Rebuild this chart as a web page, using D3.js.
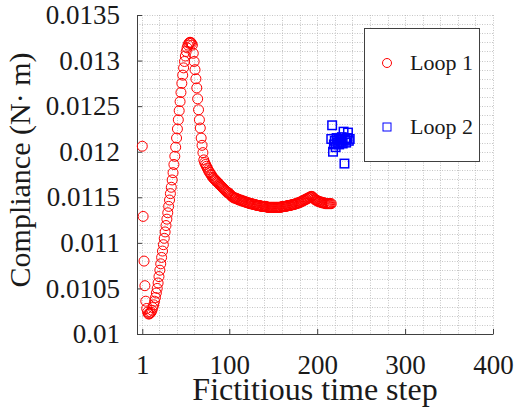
<!DOCTYPE html>
<html>
<head>
<meta charset="utf-8">
<script src="https://cdn.jsdelivr.net/npm/d3@7"></script>
<style>
  html, body { margin: 0; padding: 0; background: #fff; }
  svg { display: block; font-family: "Liberation Serif", "Times New Roman", serif; }
</style>
</head>
<body>
<svg id="chart" width="518" height="412"></svg>
<script>
// Compliance per fictitious time step, Loop 1 starts at step 1
const loop1FirstStep = 1;
const loop1Compliance = [
  0.01206, 0.01129, 0.01080, 0.01053, 0.01036, 0.01028, 0.01024, 0.01022, 0.01022, 0.01023,
  0.01024, 0.01026, 0.01029, 0.01032, 0.01036, 0.01040, 0.01045, 0.01050, 0.01056, 0.01063,
  0.01070, 0.01077, 0.01084, 0.01091, 0.01098, 0.01105, 0.01112, 0.01119, 0.01126, 0.01133,
  0.01140, 0.01147, 0.01154, 0.01161, 0.01169, 0.01177, 0.01186, 0.01195, 0.01205, 0.01215,
  0.01225, 0.01235, 0.01245, 0.01255, 0.01265, 0.01275, 0.01284, 0.01292, 0.01299, 0.01305,
  0.01310, 0.01314, 0.01317, 0.01319, 0.01320, 0.01320, 0.01319, 0.01317, 0.01308, 0.01299,
  0.01290, 0.01280, 0.01270, 0.01258, 0.01246, 0.01235, 0.01226, 0.01215, 0.01207, 0.01199,
  0.01191, 0.01188, 0.01186, 0.01184, 0.01182, 0.01180, 0.01178, 0.01177, 0.01175, 0.01174,
  0.01172, 0.01171, 0.01170, 0.01169, 0.01168, 0.01167, 0.01166, 0.01165, 0.01164, 0.01163,
  0.01162, 0.01161, 0.01160, 0.01159, 0.01158, 0.01157, 0.01156, 0.01155, 0.01155, 0.01154,
  0.01153, 0.01152, 0.01151, 0.01150, 0.01150, 0.01149, 0.01149, 0.01149, 0.01148, 0.01148,
  0.01147, 0.01147, 0.01147, 0.01146, 0.01146, 0.01146, 0.01145, 0.01145, 0.01145, 0.01144,
  0.01144, 0.01144, 0.01143, 0.01143, 0.01143, 0.01143, 0.01142, 0.01142, 0.01142, 0.01142,
  0.01141, 0.01141, 0.01141, 0.01141, 0.01141, 0.01140, 0.01140, 0.01140, 0.01140, 0.01140,
  0.01140, 0.01140, 0.01139, 0.01139, 0.01139, 0.01139, 0.01139, 0.01139, 0.01139, 0.01139,
  0.01139, 0.01139, 0.01139, 0.01139, 0.01139, 0.01139, 0.01139, 0.01139, 0.01139, 0.01140,
  0.01140, 0.01140, 0.01140, 0.01140, 0.01140, 0.01141, 0.01141, 0.01141, 0.01141, 0.01141,
  0.01142, 0.01142, 0.01142, 0.01142, 0.01143, 0.01143, 0.01143, 0.01144, 0.01144, 0.01144,
  0.01145, 0.01145, 0.01146, 0.01146, 0.01147, 0.01147, 0.01148, 0.01148, 0.01149, 0.01149,
  0.01150, 0.01150, 0.01151, 0.01151, 0.01150, 0.01149, 0.01148, 0.01147, 0.01147, 0.01146,
  0.01146, 0.01145, 0.01145, 0.01145, 0.01144, 0.01144, 0.01144, 0.01144, 0.01143, 0.01143,
  0.01143, 0.01143, 0.01143, 0.01143, 0.01143, 0.01143
];

// Loop 2 continues from step 216
const loop2FirstStep = 216;
const loop2Compliance = [
  0.01214, 0.01229, 0.01200, 0.01208, 0.01212, 0.01205, 0.01215, 0.01210, 0.01213, 0.01208,
  0.01214, 0.01211, 0.01216, 0.01209, 0.01222, 0.01187, 0.01213, 0.01210, 0.01215, 0.01221,
  0.01212, 0.01214
];

const xTicks = [1, 100, 200, 300, 400];
const yTicks = [0.01, 0.0105, 0.011, 0.0115, 0.012, 0.0125, 0.013, 0.0135];
const xMinorGrid = [20, 40, 60, 80, 120, 140, 160, 180, 220, 240, 260, 280, 320, 340, 360, 380];
const seriesNames = ["Loop 1", "Loop 2"];

const svg = d3.select("#chart");
const plotLeft = 137, plotRight = 493, plotTop = 15, plotBottom = 334;

const x = d3.scaleLinear().domain([-5, 400]).range([plotLeft, plotRight]);
const y = d3.scaleLinear().domain([0.01, 0.0135]).range([plotBottom, plotTop]);

// Grid: dotted lines at every major and minor position
const grid = svg.append("g").attr("stroke", "#b8b8b8").attr("stroke-width", 0.8)
  .attr("stroke-dasharray", "1,1.5").attr("fill", "none");
const yGridVals = d3.range(0, 36).map(i => 0.01 + i * 0.0001);
grid.selectAll("line.h").data(yGridVals).join("line").attr("class", "h")
  .attr("x1", plotLeft).attr("x2", plotRight)
  .attr("y1", d => Math.round(y(d)) + 0.5).attr("y2", d => Math.round(y(d)) + 0.5);
grid.selectAll("line.v").data(xTicks.concat(xMinorGrid)).join("line").attr("class", "v")
  .attr("y1", plotTop).attr("y2", plotBottom)
  .attr("x1", d => Math.round(x(d)) + 0.5).attr("x2", d => Math.round(x(d)) + 0.5);

// Axes with inward ticks
const axisColor = "#404040";
const yAxis = d3.axisLeft(y).tickValues(yTicks).tickSizeInner(-5).tickSizeOuter(0)
  .tickPadding(17).tickFormat(d => String(+d.toFixed(4)));
const gy = svg.append("g").attr("transform", `translate(${plotLeft},0)`).call(yAxis);
const xAxis = d3.axisBottom(x).tickValues(xTicks).tickSizeInner(-5).tickSizeOuter(0)
  .tickPadding(21).tickFormat(d3.format("d"));
const gx = svg.append("g").attr("transform", `translate(0,${plotBottom})`).call(xAxis);
[gx, gy].forEach(g => {
  g.select(".domain").attr("stroke", axisColor).attr("stroke-width", 1);
  g.selectAll(".tick line").attr("stroke", axisColor);
  g.selectAll(".tick text").attr("fill", "#1a1a1a")
    .style("font-family", '"Liberation Serif", serif').style("font-size", "27px");
});
gx.selectAll(".tick text").attr("dy", "0.71em");

// Loop 1: red open circles
const loop1 = loop1Compliance.map((v, i) => ({ step: loop1FirstStep + i, value: v }));
svg.append("g").selectAll("circle").data(loop1).join("circle")
  .attr("cx", d => x(d.step)).attr("cy", d => y(d.value)).attr("r", 5)
  .attr("fill", "none").attr("stroke", "#ff0000").attr("stroke-width", 1);

// Loop 2: blue open squares
const loop2 = loop2Compliance.map((v, i) => ({ step: loop2FirstStep + i, value: v }));
const sq = 8.5;
svg.append("g").selectAll("rect").data(loop2).join("rect")
  .attr("x", d => x(d.step) - sq / 2).attr("y", d => y(d.value) - sq / 2)
  .attr("width", sq).attr("height", sq)
  .attr("fill", "none").attr("stroke", "#0000ff").attr("stroke-width", 1.5);

// Axis titles
svg.append("text").attr("x", (plotLeft + plotRight) / 2).attr("y", 400)
  .attr("text-anchor", "middle").attr("fill", "#1a1a1a")
  .style("font-size", "32px").text("Fictitious time step");
svg.append("text").attr("transform", `translate(29.5,170) rotate(-90)`)
  .attr("text-anchor", "middle").attr("fill", "#1a1a1a")
  .style("font-size", "30px").text("Compliance (N\u00b7 m)");

// Legend
const lg = svg.append("g");
lg.append("rect").attr("x", 364.5).attr("y", 28.5).attr("width", 115).attr("height", 133)
  .attr("fill", "#fff").attr("stroke", "#404040").attr("stroke-width", 1);
lg.append("circle").attr("cx", 387).attr("cy", 63).attr("r", 4.5)
  .attr("fill", "none").attr("stroke", "#ff0000").attr("stroke-width", 1);
lg.append("rect").attr("x", 383).attr("y", 123).attr("width", 8).attr("height", 8)
  .attr("fill", "none").attr("stroke", "#0000ff").attr("stroke-width", 1);
lg.selectAll("text").data(seriesNames).join("text")
  .attr("x", 410).attr("y", (d, i) => i === 0 ? 69.5 : 133.5)
  .attr("fill", "#1a1a1a").style("font-size", "22px").text(d => d);
</script>
</body>
</html>
